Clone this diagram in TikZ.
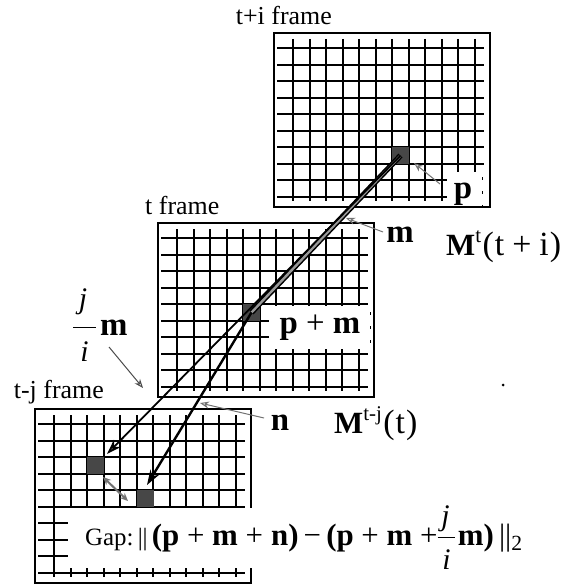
\documentclass[tikz,border=0pt]{standalone}
\usepackage{fontspec}
\setmainfont{Liberation Serif}
\usetikzlibrary{arrows.meta}
\newcommand\myframe[2]{\begin{scope}[shift={(#1,#2)}]
 \draw[frameline] (0,0) rectangle (216,174);
 \foreach \k in {0,...,9} {\pgfmathtruncatemacro{\yy}{15+round(16.5*\k)}\draw[gridline] (3,\yy) -- (210,\yy);}
 \foreach \k in {0,...,11} {\pgfmathtruncatemacro{\xx}{19+round(16.5*\k)}\draw[gridline] (\xx,6) -- (\xx,168);}
\end{scope}}
\newcommand\fs[1]{\fontsize{#1}{#1}\selectfont}
\begin{document}
\begin{tikzpicture}[x=1bp,y=-1bp,
  gridline/.style={line width=2bp, black},
  frameline/.style={line width=1.5bp, black},
  cell/.style={fill=black!72, minimum width=17bp, minimum height=17bp, inner sep=0pt, draw=none},
  pointer/.style={draw=black!55, line width=1bp, -{Stealth[open,length=9bp,width=7bp]}},
  mainarrow/.style={line width=1.8bp, -{Stealth[length=15bp,width=10bp,fill=black!55]}},
  lbl/.style={font=\fs{26}, inner sep=0pt},
  mlbl/.style={font=\fs{33}\bfseries, inner sep=0pt},
  txt/.style={inner sep=0pt},
  fracbar/.style={line width=1bp},
  boxdash/.style={line width=1bp, dash pattern=on 3bp off 11bp}]
\useasboundingbox (0,0) rectangle (581,585);
\fill[white] (0,0) rectangle (581,585);
% grids
\myframe{274}{33}
\myframe{158}{223}
\myframe{35}{409}
% label covers
\fill[white] (447,172) rectangle (485,206);
\fill[white] (269,306) rectangle (371,349);
\fill[white] (68,508) rectangle (545,568);
\draw[boxdash] (482,177) -- (482,206);
\draw[boxdash] (370,312) -- (370,346);
% cells
\node[cell] (sqT) at (400.5,155.5) {};
\node[cell] (sqM) at (251.5,312.5) {};
\node[cell] (sqBa) at (95.5,465.5) {};
\node[cell] (sqBb) at (145,498.5) {};
% main vectors
\coordinate (tipA) at (107,454);
\coordinate (tipB) at (147,485);
\draw[line width=5.5bp, black] (sqT.center) -- (sqM.center);
\draw[line width=2.4bp, black!40] (sqT.center) -- (sqM.center);
\draw[mainarrow] (sqT.center) -- (tipA);
\draw[mainarrow, line width=2.4bp] (sqM.center) -- (tipB);
% frame labels
\node[lbl, anchor=base east] (ltop) at (332,25) {t+i frame};
\node[lbl, anchor=base west] (lmid) at (145,214) {t frame};
\node[lbl, anchor=base east] (lbot) at (104,398) {t-j frame};
% vector labels
\node[mlbl, anchor=base] (lp) at (463,198) {p};
\node[mlbl, anchor=base] (lpm) at (320,333) {p {\mdseries+} m};
\node[mlbl, anchor=base] (lm) at (400,242) {m};
\node[mlbl, anchor=base] (ln) at (280,430) {n};
\node[txt, anchor=base west] (lMt) at (446,255) {\fs{31}\bfseries M\raisebox{13bp}{\fs{21}\mdseries t}\hspace{1.5bp}\fs{34}\mdseries(\hspace{1bp}t\hspace{8bp}+\hspace{8bp}i\hspace{1bp})};
\node[txt, anchor=base west] (lMtj) at (334,433) {\fs{31}\bfseries M\raisebox{13bp}{\fs{21}\mdseries t-j}\hspace{1.5bp}\fs{34}\mdseries(\hspace{1bp}t\hspace{1bp})};
% j/i m label
\coordinate (fbL) at (73,327); \coordinate (fbR) at (96,327);
\draw[fracbar] (fbL) -- (fbR);
\node[txt, anchor=base] (fj) at (83,308) {\fs{30}\itshape j};
\node[txt, anchor=base] (fi) at (84.5,361) {\fs{30}\itshape i};
\node[mlbl, anchor=base west] (fm) at (100,335) {m};
% gap formula
\node[txt, anchor=base west] (g1) at (85,545) {\fs{25}Gap:\,||\,\fs{31}\bfseries(p {\mdseries+} m {\mdseries+}\hspace{8bp}n){\mdseries\,−\,}(p {\mdseries+} m {\mdseries+}\hspace{8bp}};
\draw[fracbar] ([yshift=8bp]g1.base east) -- ([xshift=17bp,yshift=8bp]g1.base east);
\node[txt, anchor=base] (gj) at ([xshift=8bp,yshift=20bp]g1.base east) {\fs{30}\itshape j};
\node[txt, anchor=base] (gi) at ([xshift=9bp,yshift=-24bp]g1.base east) {\fs{30}\itshape i};
\node[txt, anchor=base west] (g2) at ([xshift=20bp]g1.base east) {\fs{31}\bfseries m)\,{\mdseries||\textsubscript{2}}};
% pointers
\coordinate (pA) at (440,184); \coordinate (pB) at (414,163);
\draw[pointer] (pA) -- (pB);
\coordinate (mA) at (383,232); \coordinate (mB) at (346,218);
\draw[pointer] (mA) -- (mB);
\coordinate (jA) at (109,347); \coordinate (jB) at (143,388);
\draw[pointer, draw=black!70] (jA) -- (jB);
\coordinate (nA) at (264,418); \coordinate (nB) at (200,403);
\draw[pointer] (nA) -- (nB);
\coordinate (dA) at (103,477); \coordinate (dB) at (128,501);
\draw[draw=black!55, line width=2bp, {Stealth[length=8bp,width=7bp,fill=black!55]}-{Stealth[length=8bp,width=7bp,fill=black!55]}] (dA) -- (dB);
\fill (503,385) circle (1.5);
\end{tikzpicture}
\end{document}
